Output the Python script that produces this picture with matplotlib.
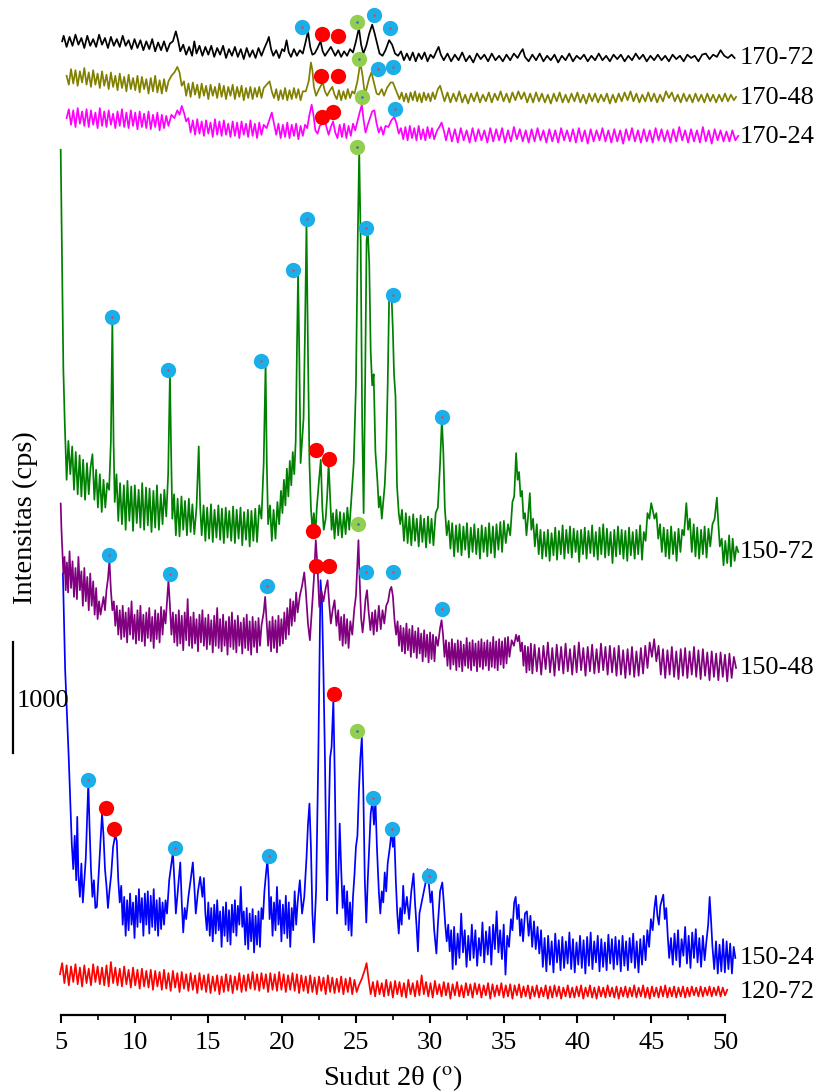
"""
XRD patterns, stacked: samples 120-72 ... 170-72, with phase markers.
Intensities in cps, read off the reference; offsets stack the patterns.
"""

import numpy as np
import matplotlib
matplotlib.use('Agg')
import matplotlib.pyplot as plt

plt.rcParams['font.family'] = ['Liberation Serif', 'DejaVu Serif']
plt.rcParams['mathtext.fontset'] = 'stix'

# ---------------------------------------------------------------- data (2θ, cps)
XRD_170_72 = [
    (5.1, 150), (5.2, 200), (5.4, 100), (5.6, 190), (5.8, 110), (6.0, 210), (6.2, 120), (6.4, 180),
    (6.6, 90), (6.8, 200), (7.0, 110), (7.2, 170), (7.4, 100), (7.6, 210), (7.8, 120), (8.0, 180),
    (8.2, 90), (8.4, 190), (8.6, 110), (8.8, 170), (9.0, 100), (9.2, 200), (9.4, 110), (9.6, 160),
    (9.8, 80), (10.0, 170), (10.2, 90), (10.4, 160), (10.6, 70), (10.8, 150), (11.0, 80), (11.2, 170),
    (11.4, 60), (11.6, 140), (11.8, 70), (12.0, 150), (12.2, 60), (12.4, 130), (12.6, 150), (12.8, 240),
    (12.95, 160), (13.1, 60), (13.3, 120), (13.5, 30), (13.7, 100), (13.9, 20), (14.05, 150), (14.2, 40),
    (14.4, 110), (14.6, 20), (14.8, 100), (15.0, 30), (15.2, 110), (15.4, 10), (15.6, 90), (15.8, 30),
    (16.0, 110), (16.2, 0), (16.4, 80), (16.6, 20), (16.8, 100), (17.0, 10), (17.2, 80), (17.4, -10),
    (17.6, 90), (17.8, 10), (18.0, 70), (18.2, 0), (18.4, 90), (18.6, 20), (18.8, 90), (19.0, 150),
    (19.1, 190), (19.25, 80), (19.4, 20), (19.6, 70), (19.8, 0), (20.0, 80), (20.15, 60), (20.3, 160),
    (20.45, 50), (20.6, 10), (20.8, 80), (21.0, 20), (21.2, 70), (21.4, 40), (21.6, 150), (21.75, 240),
    (21.9, 100), (22.05, 30), (22.2, 40), (22.4, 90), (22.6, 150), (22.75, 60), (22.9, 20), (23.1, 60),
    (23.3, 100), (23.45, 60), (23.6, 20), (23.8, 70), (24.0, 10), (24.2, 60), (24.4, 20), (24.6, 80),
    (24.8, 50), (25.0, 150), (25.2, 270), (25.35, 120), (25.5, 40), (25.7, 110), (25.9, 220), (26.1, 300),
    (26.25, 230), (26.45, 120), (26.6, 40), (26.8, 20), (27.0, 70), (27.25, 160), (27.45, 120), (27.65, 40),
    (27.85, 20), (28.05, 60), (28.25, -20), (28.45, 40), (28.65, -20), (28.85, 50), (29.05, -30), (29.25, 40),
    (29.45, -10), (29.65, 50), (29.85, -30), (30.05, 30), (30.25, 0), (30.45, 60), (30.6, 100), (30.75, 30),
    (30.95, -20), (31.2, 40), (31.45, -30), (31.7, 30), (31.95, -20), (32.2, 50), (32.45, -30), (32.7, 20),
    (32.95, -40), (33.2, 40), (33.45, -10), (33.7, 30), (33.95, -30), (34.2, 40), (34.45, -20), (34.7, 20),
    (34.95, -30), (35.2, 30), (35.45, -20), (35.7, 40), (35.95, 0), (36.15, 50), (36.3, 80), (36.45, 10),
    (36.7, -30), (36.95, 30), (37.2, -20), (37.45, 40), (37.7, -30), (37.95, 20), (38.2, -20), (38.45, 30),
    (38.7, -40), (38.95, 20), (39.2, -20), (39.45, 40), (39.7, -30), (39.95, 20), (40.2, -10), (40.45, 30),
    (40.7, -30), (40.95, 20), (41.2, -20), (41.45, 40), (41.7, -20), (41.95, 20), (42.2, -30), (42.45, 30),
    (42.7, -10), (42.95, 30), (43.2, -30), (43.45, 20), (43.7, -20), (43.95, 40), (44.2, -10), (44.45, 30),
    (44.7, -30), (44.95, 20), (45.2, -20), (45.45, 30), (45.7, -20), (45.95, 20), (46.2, -30), (46.45, 30),
    (46.7, -10), (46.95, 20), (47.2, -30), (47.45, 30), (47.7, 0), (47.95, 20), (48.2, -30), (48.45, 30),
    (48.7, 40), (48.95, -10), (49.2, 30), (49.45, 10), (49.7, 70), (49.95, 20), (50.2, 0), (50.45, 30),
    (50.65, 0),
]

XRD_170_48 = [
    (5.4, 200), (5.55, 120), (5.7, 260), (5.85, 130), (6.0, 250), (6.15, 110), (6.3, 240), (6.45, 140),
    (6.6, 270), (6.75, 120), (6.9, 230), (7.05, 100), (7.2, 250), (7.35, 120), (7.5, 220), (7.65, 90),
    (7.8, 240), (7.95, 110), (8.1, 210), (8.25, 80), (8.4, 230), (8.55, 100), (8.7, 200), (8.85, 70),
    (9.0, 220), (9.15, 90), (9.3, 190), (9.45, 60), (9.6, 210), (9.75, 80), (9.9, 180), (10.05, 70),
    (10.2, 200), (10.35, 50), (10.5, 190), (10.65, 80), (10.8, 170), (10.95, 40), (11.1, 180), (11.25, 60),
    (11.4, 200), (11.55, 50), (11.7, 160), (11.85, 40), (12.0, 170), (12.15, 60), (12.3, 150), (12.5, 200),
    (12.7, 230), (12.9, 280), (13.05, 230), (13.2, 110), (13.35, 150), (13.5, 20), (13.65, 130), (13.8, 10),
    (13.95, 140), (14.1, 30), (14.25, 120), (14.4, 0), (14.55, 130), (14.7, 20), (14.85, 110), (15.0, -10),
    (15.15, 120), (15.3, 20), (15.45, 100), (15.6, 0), (15.75, 130), (15.9, 10), (16.05, 110), (16.2, -10),
    (16.35, 100), (16.5, 20), (16.65, 120), (16.8, -10), (16.95, 100), (17.1, 10), (17.25, 110), (17.4, -20),
    (17.55, 90), (17.7, 0), (17.85, 100), (18.0, -10), (18.15, 90), (18.3, 10), (18.45, 100), (18.6, 0),
    (18.75, 90), (18.95, 120), (19.15, 150), (19.3, 60), (19.45, 0), (19.6, 80), (19.75, -20), (19.9, 70),
    (20.05, -10), (20.2, 90), (20.35, -20), (20.5, 70), (20.65, -10), (20.8, 90), (20.95, 0), (21.1, 80),
    (21.25, -20), (21.4, 60), (21.6, 60), (21.8, 150), (21.95, 320), (22.05, 250), (22.15, 100), (22.3, 20),
    (22.5, 80), (22.75, 140), (22.9, 60), (23.05, 20), (23.2, 60), (23.4, 100), (23.55, 30), (23.7, -10),
    (23.85, 70), (24.0, -20), (24.15, 60), (24.3, -10), (24.45, 80), (24.6, 0), (24.75, 60), (24.9, 40),
    (25.1, 150), (25.3, 320), (25.45, 200), (25.6, 30), (25.75, 100), (25.9, 180), (26.05, 230), (26.2, 150),
    (26.4, 40), (26.55, 30), (26.75, 80), (26.9, 20), (27.1, 90), (27.35, 140), (27.5, 140), (27.65, 90),
    (27.8, 40), (27.95, -10), (28.1, 50), (28.25, -30), (28.4, 40), (28.55, -40), (28.7, 50), (28.85, -20),
    (29.0, 60), (29.15, -30), (29.3, 40), (29.45, -40), (29.6, 50), (29.75, -20), (29.9, 40), (30.05, -30),
    (30.2, 50), (30.35, -10), (30.55, 80), (30.7, 110), (30.85, 40), (31.0, -30), (31.2, 50), (31.4, -40),
    (31.6, 40), (31.8, -30), (32.0, 60), (32.2, -40), (32.4, 30), (32.6, -50), (32.8, 40), (33.0, -30),
    (33.2, 50), (33.4, -40), (33.6, 30), (33.8, -30), (34.0, 50), (34.2, -40), (34.4, 40), (34.6, -20),
    (34.8, 60), (35.0, -30), (35.2, 40), (35.4, -40), (35.6, 50), (35.8, -20), (36.0, 60), (36.2, -10),
    (36.4, 50), (36.6, -40), (36.8, 40), (37.0, -40), (37.2, 50), (37.4, -30), (37.6, 40), (37.8, -40),
    (38.0, 30), (38.2, -50), (38.4, 40), (38.6, -30), (38.8, 50), (39.0, -40), (39.2, 30), (39.4, -40),
    (39.6, 40), (39.8, -30), (40.0, 50), (40.2, -40), (40.4, 30), (40.6, -50), (40.8, 40), (41.0, -30),
    (41.2, 40), (41.4, -40), (41.6, 30), (41.8, -30), (42.0, 40), (42.2, -50), (42.4, 30), (42.6, -40),
    (42.8, 40), (43.0, -30), (43.2, 50), (43.4, -20), (43.6, 60), (43.8, -30), (44.0, 40), (44.2, -40),
    (44.4, 30), (44.6, -30), (44.8, 50), (45.0, -30), (45.2, 40), (45.4, -40), (45.6, 30), (45.8, -30),
    (46.0, 60), (46.2, 0), (46.4, 50), (46.6, -30), (46.8, 30), (47.0, -40), (47.2, 40), (47.4, -30),
    (47.6, 30), (47.8, -40), (48.0, 40), (48.2, -30), (48.4, 30), (48.6, -40), (48.8, 40), (49.0, -30),
    (49.2, 30), (49.4, -40), (49.6, 30), (49.8, -30), (50.0, 40), (50.2, -30), (50.4, 30), (50.6, -20),
    (50.75, 10),
]

XRD_170_24 = [
    (5.4, 170), (5.55, 250), (5.7, 110), (5.85, 240), (6.0, 90), (6.15, 260), (6.3, 120), (6.45, 230),
    (6.6, 100), (6.75, 250), (6.9, 90), (7.05, 240), (7.2, 110), (7.35, 220), (7.5, 80), (7.65, 260),
    (7.8, 100), (7.95, 230), (8.1, 90), (8.25, 240), (8.4, 110), (8.55, 210), (8.7, 80), (8.85, 230),
    (9.0, 100), (9.15, 250), (9.3, 90), (9.45, 220), (9.6, 80), (9.75, 240), (9.9, 100), (10.05, 220),
    (10.2, 70), (10.35, 230), (10.5, 90), (10.65, 210), (10.8, 80), (10.95, 230), (11.1, 70), (11.25, 200),
    (11.4, 90), (11.55, 220), (11.7, 60), (11.85, 200), (12.0, 80), (12.15, 190), (12.3, 100), (12.5, 200),
    (12.7, 170), (12.9, 240), (13.05, 200), (13.2, 280), (13.35, 220), (13.5, 140), (13.65, 170), (13.8, 40),
    (13.95, 150), (14.1, 20), (14.25, 160), (14.4, 30), (14.55, 140), (14.7, 10), (14.85, 150), (15.0, 30),
    (15.15, 130), (15.3, 0), (15.45, 160), (15.6, 20), (15.75, 140), (15.9, 10), (16.05, 150), (16.2, 20),
    (16.35, 120), (16.5, 0), (16.65, 140), (16.8, 10), (16.95, 130), (17.1, -10), (17.25, 140), (17.4, 20),
    (17.55, 120), (17.7, 0), (17.85, 150), (18.0, 10), (18.15, 120), (18.3, -10), (18.45, 130), (18.6, 20),
    (18.75, 110), (18.95, 80), (19.15, 160), (19.3, 220), (19.45, 120), (19.6, 20), (19.75, 120), (19.9, -10),
    (20.05, 110), (20.2, 0), (20.35, 130), (20.5, -10), (20.65, 110), (20.8, 10), (20.95, 120), (21.1, -20),
    (21.25, 100), (21.4, 10), (21.55, 110), (21.7, 80), (21.85, 200), (22.0, 290), (22.12, 200), (22.25, 60),
    (22.4, 30), (22.55, 100), (22.7, 120), (22.85, 180), (23.0, 90), (23.15, 20), (23.3, 90), (23.45, 140),
    (23.6, 40), (23.75, -10), (23.9, 110), (24.05, 0), (24.2, 120), (24.35, -10), (24.5, 100), (24.65, 10),
    (24.8, 120), (24.95, 60), (25.1, 140), (25.25, 220), (25.4, 290), (25.52, 150), (25.65, 40), (25.8, 110),
    (25.95, 170), (26.1, 230), (26.25, 240), (26.4, 120), (26.55, 40), (26.7, 90), (26.85, 20), (27.0, 100),
    (27.2, 90), (27.4, 150), (27.6, 180), (27.75, 120), (27.9, 30), (28.05, 80), (28.2, -20), (28.35, 90),
    (28.5, -30), (28.65, 100), (28.8, -10), (28.95, 80), (29.1, -30), (29.25, 100), (29.4, -20), (29.55, 70),
    (29.7, -30), (29.85, 90), (30.0, -10), (30.15, 80), (30.3, -20), (30.5, 60), (30.65, 90), (30.8, 130),
    (30.95, 60), (31.1, -30), (31.3, 80), (31.5, -40), (31.7, 70), (31.9, -50), (32.1, 80), (32.3, -30),
    (32.5, 60), (32.7, -50), (32.9, 80), (33.1, -40), (33.3, 70), (33.5, -30), (33.7, 60), (33.9, -50),
    (34.1, 80), (34.3, -40), (34.5, 70), (34.7, -30), (34.9, 80), (35.1, -50), (35.3, 60), (35.5, -40),
    (35.7, 90), (35.9, -20), (36.1, 70), (36.3, -40), (36.5, 60), (36.7, -50), (36.9, 70), (37.1, -40),
    (37.3, 80), (37.5, -30), (37.7, 60), (37.9, -50), (38.1, 70), (38.3, -40), (38.5, 60), (38.7, -50),
    (38.9, 80), (39.1, -30), (39.3, 60), (39.5, -40), (39.7, 70), (39.9, -50), (40.1, 80), (40.3, -40),
    (40.5, 60), (40.7, -60), (40.9, 70), (41.1, -40), (41.3, 60), (41.5, -30), (41.7, 80), (41.9, -40),
    (42.1, 60), (42.3, -50), (42.5, 70), (42.7, -40), (42.9, 60), (43.1, -60), (43.3, 70), (43.5, -30),
    (43.7, 80), (43.9, -40), (44.1, 60), (44.3, -50), (44.5, 70), (44.7, -40), (44.9, 60), (45.1, -50),
    (45.3, 80), (45.5, -30), (45.7, 70), (45.9, -40), (46.1, 60), (46.3, -50), (46.5, 70), (46.7, -40),
    (46.9, 90), (47.1, -30), (47.3, 60), (47.5, -50), (47.7, 70), (47.9, -40), (48.1, 60), (48.3, -50),
    (48.5, 90), (48.7, -40), (48.9, 60), (49.1, -60), (49.3, 70), (49.5, -30), (49.7, 60), (49.9, -40),
    (50.1, 50), (50.3, -40), (50.5, 60), (50.7, -30), (50.9, 10),
]

XRD_150_72 = [
    (5.00, 3620), (5.08, 2720), (5.18, 1640), (5.28, 1140), (5.40, 650), (5.52, 1000), (5.65, 700),
    (5.78, 950), (5.90, 560), (6.02, 900), (6.15, 520), (6.28, 870), (6.40, 500), (6.52, 830), (6.65, 470),
    (6.78, 800), (6.90, 520), (7.02, 760), (7.15, 880), (7.28, 470), (7.40, 740), (7.52, 400), (7.65, 700),
    (7.78, 360), (7.90, 650), (8.02, 400), (8.15, 620), (8.28, 560), (8.40, 1000), (8.50, 2090), (8.58, 1000),
    (8.66, 450), (8.78, 700), (8.90, 280), (9.02, 620), (9.15, 250), (9.28, 600), (9.40, 200), (9.52, 640),
    (9.65, 280), (9.78, 590), (9.90, 190), (10.02, 600), (10.15, 260), (10.28, 560), (10.40, 220), (10.52, 620),
    (10.65, 200), (10.78, 580), (10.90, 240), (11.02, 570), (11.15, 180), (11.28, 550), (11.40, 220),
    (11.52, 600), (11.65, 200), (11.78, 520), (11.90, 250), (12.02, 560), (12.15, 320), (12.28, 700),
    (12.40, 1610), (12.48, 900), (12.56, 300), (12.68, 520), (12.80, 150), (12.92, 480), (13.05, 140),
    (13.18, 500), (13.30, 200), (13.42, 460), (13.55, 150), (13.68, 480), (13.80, 180), (13.92, 430),
    (14.05, 160), (14.20, 400), (14.35, 950), (14.45, 400), (14.55, 150), (14.68, 420), (14.80, 100),
    (14.92, 400), (15.05, 120), (15.18, 430), (15.30, 90), (15.42, 380), (15.55, 130), (15.68, 420),
    (15.80, 110), (15.92, 390), (16.05, 80), (16.18, 400), (16.30, 130), (16.42, 370), (16.55, 100),
    (16.68, 410), (16.80, 80), (16.92, 380), (17.05, 120), (17.18, 400), (17.30, 60), (17.42, 360),
    (17.55, 110), (17.68, 380), (17.80, 50), (17.92, 370), (18.05, 100), (18.18, 390), (18.30, 90),
    (18.45, 420), (18.60, 300), (18.75, 800), (18.88, 1700), (18.96, 800), (19.05, 250), (19.18, 420),
    (19.30, 100), (19.42, 380), (19.55, 120), (19.68, 450), (19.80, 250), (19.92, 550), (20.02, 350),
    (20.12, 650), (20.22, 420), (20.32, 750), (20.42, 500), (20.52, 820), (20.62, 600), (20.72, 900),
    (20.82, 700), (20.92, 1000), (21.00, 1800), (21.08, 2510), (21.16, 1800), (21.25, 800), (21.35, 1000),
    (21.45, 1200), (21.55, 2000), (21.65, 2960), (21.75, 1800), (21.85, 800), (21.95, 400), (22.05, 200),
    (22.15, 350), (22.25, 150), (22.35, 400), (22.50, 650), (22.62, 830), (22.72, 400), (22.82, 200),
    (22.95, 300), (23.05, 500), (23.15, 800), (23.25, 500), (23.35, 200), (23.45, 350), (23.55, 120),
    (23.68, 380), (23.80, 150), (23.92, 360), (24.05, 130), (24.18, 350), (24.30, 160), (24.42, 400),
    (24.55, 200), (24.70, 500), (24.85, 800), (25.00, 1500), (25.12, 2800), (25.22, 3620), (25.32, 2800),
    (25.42, 1200), (25.52, 350), (25.62, 1500), (25.72, 2800), (25.80, 2900), (25.90, 2600), (26.00, 1800),
    (26.10, 1500), (26.20, 1600), (26.32, 900), (26.45, 650), (26.55, 400), (26.65, 500), (26.75, 300),
    (26.85, 450), (26.95, 600), (27.05, 900), (27.15, 1500), (27.25, 2300), (27.35, 2300), (27.42, 2280),
    (27.50, 2000), (27.58, 1600), (27.68, 1400), (27.78, 600), (27.90, 350), (28.00, 250), (28.12, 380),
    (28.25, 100), (28.38, 350), (28.50, 80), (28.62, 320), (28.75, 60), (28.88, 340), (29.00, 100),
    (29.12, 300), (29.25, 50), (29.38, 330), (29.50, 90), (29.62, 300), (29.75, 40), (29.88, 320),
    (30.00, 80), (30.12, 300), (30.25, 60), (30.40, 350), (30.55, 400), (30.70, 800), (30.82, 1190),
    (30.92, 900), (31.02, 400), (31.15, 150), (31.28, 280), (31.40, 30), (31.52, 260), (31.65, -40),
    (31.78, 240), (31.90, 0), (32.02, 250), (32.15, -30), (32.28, 230), (32.40, 20), (32.52, 260),
    (32.65, -50), (32.78, 220), (32.90, 0), (33.02, 250), (33.15, -20), (33.28, 210), (33.40, -60),
    (33.52, 240), (33.65, 0), (33.78, 220), (33.90, -40), (34.02, 260), (34.15, -10), (34.28, 230),
    (34.40, -50), (34.52, 250), (34.65, 20), (34.78, 270), (34.90, 0), (35.02, 280), (35.15, 80),
    (35.30, 250), (35.45, 150), (35.60, 450), (35.72, 500), (35.85, 890), (35.95, 650), (36.05, 720),
    (36.15, 500), (36.25, 550), (36.35, 300), (36.45, 350), (36.55, 150), (36.65, 300), (36.78, 530),
    (36.88, 200), (37.00, 300), (37.12, 50), (37.25, 250), (37.38, -20), (37.50, 200), (37.62, -60),
    (37.75, 180), (37.88, -40), (38.00, 200), (38.12, -80), (38.25, 170), (38.38, -30), (38.50, 220),
    (38.62, -70), (38.75, 190), (38.88, -20), (39.00, 240), (39.12, -60), (39.25, 200), (39.38, -10),
    (39.50, 230), (39.62, -50), (39.75, 210), (39.88, 0), (40.00, 190), (40.12, -90), (40.25, 200),
    (40.38, -20), (40.50, 220), (40.62, -60), (40.75, 190), (40.88, -10), (41.00, 240), (41.12, -40),
    (41.25, 180), (41.38, -70), (41.50, 220), (41.62, -20), (41.75, 250), (41.88, -50), (42.00, 210),
    (42.12, -30), (42.25, 180), (42.38, -100), (42.50, 200), (42.62, -40), (42.75, 230), (42.88, -20),
    (43.00, 200), (43.12, -60), (43.25, 190), (43.38, -80), (43.50, 220), (43.62, -30), (43.75, 180),
    (43.88, -60), (44.00, 200), (44.12, -20), (44.25, 240), (44.38, -70), (44.50, 180), (44.62, 100),
    (44.75, 350), (44.88, 300), (45.00, 440), (45.10, 380), (45.22, 300), (45.35, 350), (45.48, 120),
    (45.60, 250), (45.72, 0), (45.85, 220), (45.98, -40), (46.10, 200), (46.22, -60), (46.35, 230),
    (46.48, -20), (46.60, 180), (46.72, -80), (46.85, 210), (46.98, 0), (47.10, 200), (47.22, 150),
    (47.38, 440), (47.50, 200), (47.62, 300), (47.75, 0), (47.88, 250), (48.00, -40), (48.12, 220),
    (48.25, -60), (48.38, 200), (48.50, -20), (48.62, 230), (48.75, -50), (48.88, 210), (49.00, 50),
    (49.15, 250), (49.30, 300), (49.45, 490), (49.55, 250), (49.65, 50), (49.78, 120), (49.90, -120),
    (50.02, 100), (50.15, -100), (50.28, 150), (50.40, -130), (50.52, 120), (50.65, -80), (50.78, 50),
    (50.90, 0),
]

XRD_150_48 = [
    (5.0, 1480), (5.05, 1250), (5.1, 1090), (5.18, 850), (5.26, 1000), (5.34, 700), (5.42, 950), (5.5, 680),
    (5.6, 1050), (5.7, 720), (5.8, 960), (5.9, 640), (6.0, 900), (6.1, 620), (6.2, 1000), (6.3, 700),
    (6.4, 870), (6.5, 560), (6.6, 900), (6.7, 600), (6.8, 820), (6.9, 520), (7.0, 850), (7.1, 560),
    (7.2, 780), (7.3, 480), (7.4, 720), (7.5, 440), (7.6, 600), (7.7, 480), (7.8, 560), (7.9, 640),
    (8.0, 520), (8.1, 700), (8.2, 800), (8.3, 970), (8.4, 700), (8.5, 520), (8.6, 600), (8.7, 380),
    (8.8, 560), (8.9, 300), (9.0, 520), (9.1, 260), (9.2, 560), (9.3, 280), (9.4, 500), (9.5, 230),
    (9.6, 540), (9.7, 300), (9.8, 600), (9.9, 260), (10.0, 480), (10.1, 220), (10.2, 520), (10.3, 250),
    (10.4, 560), (10.5, 240), (10.6, 480), (10.7, 200), (10.8, 500), (10.9, 270), (11.0, 540), (11.1, 240),
    (11.2, 460), (11.3, 180), (11.4, 520), (11.5, 260), (11.6, 490), (11.7, 230), (11.8, 550), (11.9, 300),
    (12.0, 520), (12.1, 400), (12.2, 600), (12.3, 790), (12.4, 560), (12.5, 300), (12.6, 500), (12.7, 230),
    (12.8, 480), (12.9, 200), (13.0, 520), (13.1, 220), (13.2, 470), (13.3, 160), (13.4, 500), (13.5, 250),
    (13.6, 620), (13.7, 200), (13.8, 460), (13.9, 180), (14.0, 500), (14.1, 220), (14.2, 440), (14.3, 150),
    (14.4, 480), (14.5, 230), (14.6, 520), (14.7, 200), (14.8, 450), (14.9, 170), (15.0, 480), (15.1, 210),
    (15.2, 430), (15.3, 140), (15.4, 470), (15.5, 200), (15.6, 540), (15.7, 180), (15.8, 440), (15.9, 150),
    (16.0, 480), (16.1, 200), (16.2, 420), (16.3, 120), (16.4, 460), (16.5, 190), (16.6, 500), (16.7, 170),
    (16.8, 430), (16.9, 140), (17.0, 470), (17.1, 200), (17.2, 410), (17.3, 130), (17.4, 450), (17.5, 180),
    (17.6, 480), (17.7, 160), (17.8, 420), (17.9, 120), (18.0, 460), (18.1, 190), (18.2, 420), (18.3, 140),
    (18.4, 450), (18.5, 200), (18.6, 380), (18.75, 500), (18.85, 640), (18.95, 420), (19.05, 200),
    (19.15, 420), (19.25, 150), (19.35, 460), (19.45, 180), (19.55, 430), (19.65, 140), (19.75, 470),
    (19.85, 200), (19.95, 440), (20.05, 220), (20.15, 500), (20.25, 260), (20.35, 540), (20.45, 300),
    (20.55, 620), (20.65, 380), (20.75, 600), (20.85, 420), (20.95, 680), (21.05, 500), (21.2, 650),
    (21.35, 740), (21.5, 860), (21.6, 700), (21.75, 400), (21.88, 250), (22.0, 500), (22.15, 800),
    (22.28, 1150), (22.4, 900), (22.52, 550), (22.65, 700), (22.8, 600), (22.95, 720), (23.08, 790),
    (23.2, 560), (23.3, 400), (23.42, 520), (23.55, 610), (23.68, 380), (23.8, 520), (23.9, 250),
    (24.0, 460), (24.1, 200), (24.2, 480), (24.3, 220), (24.4, 440), (24.5, 180), (24.62, 420),
    (24.75, 300), (24.88, 520), (25.0, 650), (25.1, 950), (25.17, 1150), (25.25, 800), (25.35, 450),
    (25.45, 320), (25.55, 450), (25.65, 620), (25.75, 700), (25.85, 520), (25.98, 340), (26.1, 500),
    (26.2, 300), (26.3, 520), (26.42, 330), (26.55, 560), (26.68, 350), (26.8, 520), (26.92, 400),
    (27.05, 560), (27.18, 600), (27.3, 700), (27.4, 730), (27.5, 650), (27.62, 420), (27.72, 300),
    (27.82, 420), (27.92, 200), (28.02, 380), (28.12, 150), (28.22, 360), (28.32, 130), (28.42, 400),
    (28.52, 160), (28.62, 350), (28.72, 100), (28.82, 380), (28.92, 140), (29.02, 330), (29.12, 90),
    (29.22, 360), (29.32, 130), (29.42, 310), (29.52, 60), (29.62, 340), (29.72, 100), (29.82, 300),
    (29.92, 50), (30.02, 320), (30.12, 80), (30.22, 300), (30.32, 60), (30.42, 280), (30.55, 200),
    (30.7, 360), (30.8, 430), (30.9, 300), (31.0, 100), (31.1, 250), (31.2, 20), (31.3, 230), (31.4, -10),
    (31.5, 260), (31.6, 30), (31.7, 220), (31.8, -20), (31.9, 250), (32.0, 10), (32.1, 240), (32.2, -30),
    (32.3, 210), (32.4, 20), (32.5, 270), (32.6, 0), (32.7, 230), (32.8, -20), (32.9, 250), (33.0, 20),
    (33.1, 220), (33.2, -30), (33.3, 240), (33.4, 10), (33.5, 260), (33.6, -10), (33.7, 230), (33.8, 20),
    (33.9, 250), (34.0, -20), (34.1, 230), (34.2, 10), (34.3, 280), (34.4, 0), (34.5, 240), (34.6, -20),
    (34.7, 260), (34.8, 30), (34.9, 240), (35.0, 0), (35.1, 270), (35.2, 40), (35.3, 280), (35.4, 100),
    (35.55, 250), (35.7, 200), (35.85, 300), (35.95, 240), (36.05, 290), (36.15, 150), (36.25, 230),
    (36.35, 20), (36.45, 200), (36.55, -40), (36.65, 190), (36.75, -20), (36.85, 220), (36.95, -50),
    (37.1, 210), (37.25, -30), (37.4, 180), (37.55, -60), (37.7, 200), (37.85, -10), (38.0, 230),
    (38.15, -40), (38.3, 180), (38.45, -70), (38.6, 210), (38.75, -20), (38.9, 190), (39.05, -50),
    (39.2, 220), (39.35, -30), (39.5, 170), (39.65, -60), (39.8, 200), (39.95, -40), (40.1, 230),
    (40.25, -20), (40.4, 180), (40.55, -70), (40.7, 190), (40.85, -30), (41.0, 210), (41.15, -50),
    (41.3, 170), (41.45, -40), (41.6, 220), (41.75, -20), (41.9, 190), (42.05, -60), (42.2, 200),
    (42.35, -40), (42.5, 180), (42.65, -70), (42.8, 200), (42.95, -60), (43.1, 160), (43.25, -90),
    (43.4, 170), (43.55, -60), (43.7, 190), (43.85, -80), (44.0, 150), (44.15, -70), (44.3, 180),
    (44.45, -50), (44.6, 200), (44.75, 0), (44.9, 230), (45.05, 100), (45.2, 260), (45.35, 60),
    (45.5, 200), (45.65, -60), (45.8, 170), (45.95, -90), (46.1, 160), (46.25, -60), (46.4, 190),
    (46.55, -80), (46.7, 150), (46.85, -100), (47.0, 170), (47.15, -70), (47.3, 180), (47.45, -90),
    (47.6, 150), (47.75, -60), (47.9, 190), (48.05, -80), (48.2, 160), (48.35, -100), (48.5, 170),
    (48.65, -70), (48.8, 140), (48.95, -110), (49.1, 150), (49.25, -80), (49.4, 130), (49.55, -110),
    (49.7, 140), (49.85, -80), (50.0, 120), (50.15, -120), (50.3, 130), (50.45, -90), (50.6, 100),
    (50.75, 0),
]

XRD_150_24 = [
    (5.15, 3460), (5.3, 2600), (5.45, 2110), (5.55, 1780), (5.65, 1400), (5.75, 1030), (5.85, 800),
    (5.95, 1100), (6.05, 700), (6.12, 1270), (6.2, 750), (6.3, 550), (6.4, 850), (6.5, 500), (6.6, 700),
    (6.7, 900), (6.8, 1300), (6.87, 1580), (6.95, 1200), (7.05, 800), (7.15, 550), (7.25, 700), (7.35, 450),
    (7.45, 460), (7.55, 700), (7.68, 1000), (7.8, 1300), (7.9, 1100), (8.0, 800), (8.1, 650), (8.2, 450),
    (8.3, 600), (8.42, 750), (8.55, 1000), (8.7, 1110), (8.8, 1050), (8.9, 700), (9.0, 500), (9.1, 650),
    (9.2, 300), (9.3, 550), (9.4, 200), (9.5, 520), (9.6, 250), (9.7, 580), (9.8, 300), (9.9, 500),
    (10.0, 180), (10.1, 560), (10.2, 280), (10.3, 620), (10.4, 320), (10.5, 540), (10.6, 200), (10.7, 580),
    (10.8, 300), (10.9, 600), (11.0, 220), (11.1, 560), (11.2, 280), (11.3, 620), (11.4, 250), (11.5, 520),
    (11.6, 200), (11.7, 540), (11.8, 260), (11.9, 500), (12.0, 300), (12.1, 520), (12.2, 400), (12.35, 700),
    (12.5, 850), (12.6, 950), (12.7, 700), (12.8, 400), (12.9, 550), (13.0, 700), (13.1, 860), (13.2, 500),
    (13.3, 230), (13.4, 450), (13.5, 350), (13.65, 550), (13.8, 700), (13.95, 860), (14.05, 650),
    (14.15, 400), (14.3, 600), (14.45, 730), (14.6, 550), (14.7, 720), (14.8, 400), (14.9, 250), (15.0, 500),
    (15.1, 200), (15.2, 450), (15.3, 150), (15.4, 480), (15.5, 220), (15.6, 520), (15.7, 250), (15.8, 420),
    (15.9, 100), (16.0, 460), (16.1, 200), (16.2, 500), (16.3, 150), (16.4, 430), (16.5, 120), (16.6, 480),
    (16.7, 230), (16.8, 520), (16.9, 200), (17.0, 470), (17.1, 300), (17.2, 640), (17.3, 280), (17.4, 420),
    (17.5, 120), (17.6, 450), (17.7, 80), (17.8, 400), (17.9, 150), (18.0, 440), (18.1, 50), (18.2, 380),
    (18.3, 120), (18.4, 420), (18.5, 100), (18.6, 450), (18.7, 350), (18.8, 600), (18.9, 750), (19.0, 880),
    (19.08, 700), (19.15, 350), (19.25, 550), (19.35, 200), (19.45, 500), (19.55, 250), (19.65, 640),
    (19.75, 300), (19.85, 520), (19.95, 150), (20.05, 480), (20.15, 220), (20.25, 560), (20.35, 180),
    (20.45, 500), (20.55, 100), (20.65, 450), (20.75, 250), (20.85, 600), (20.95, 300), (21.05, 500),
    (21.2, 700), (21.35, 400), (21.5, 550), (21.65, 900), (21.75, 1200), (21.85, 1390), (21.95, 1000),
    (22.05, 400), (22.15, 140), (22.3, 600), (22.45, 1800), (22.6, 3400), (22.7, 3200), (22.8, 2560),
    (22.9, 1800), (23.0, 800), (23.05, 520), (23.15, 1200), (23.25, 1800), (23.35, 1900), (23.47, 2320),
    (23.57, 1600), (23.65, 800), (23.72, 400), (23.82, 800), (23.9, 1210), (24.0, 800), (24.1, 450),
    (24.2, 650), (24.3, 300), (24.4, 600), (24.5, 250), (24.6, 500), (24.7, 200), (24.8, 550), (24.9, 750),
    (25.0, 1000), (25.1, 1100), (25.2, 1500), (25.3, 1800), (25.4, 1990), (25.5, 1500), (25.6, 700),
    (25.7, 320), (25.8, 700), (25.9, 1000), (26.0, 1300), (26.12, 1420), (26.22, 1200), (26.32, 1420),
    (26.42, 1000), (26.55, 600), (26.65, 400), (26.75, 600), (26.85, 500), (26.95, 770), (27.05, 600),
    (27.15, 850), (27.3, 1000), (27.42, 1150), (27.5, 1000), (27.6, 1100), (27.7, 700), (27.8, 400),
    (27.9, 220), (28.0, 450), (28.1, 300), (28.2, 650), (28.3, 400), (28.45, 550), (28.6, 350), (28.75, 600),
    (28.9, 760), (29.0, 500), (29.1, 300), (29.2, 60), (29.3, 400), (29.45, 500), (29.6, 600), (29.75, 700),
    (29.85, 800), (29.95, 650), (30.05, 500), (30.15, 600), (30.3, 250), (30.45, 40), (30.55, 300),
    (30.7, 600), (30.85, 680), (30.95, 500), (31.05, 300), (31.15, 150), (31.25, 300), (31.35, 60),
    (31.45, 250), (31.55, -100), (31.65, 280), (31.77, -60), (31.89, 220), (32.01, 0), (32.13, 400),
    (32.25, 50), (32.37, 250), (32.49, -80), (32.61, 200), (32.73, -20), (32.85, 300), (32.97, 0),
    (33.09, 250), (33.21, -70), (33.33, 180), (33.45, 20), (33.57, 320), (33.69, -40), (33.81, 240),
    (33.93, 30), (34.05, 280), (34.17, -60), (34.29, 300), (34.41, 80), (34.53, 420), (34.65, 50),
    (34.77, 250), (34.89, -10), (35.01, 300), (35.13, -150), (35.25, 200), (35.37, 100), (35.5, 350),
    (35.6, 250), (35.72, 500), (35.82, 550), (35.92, 350), (36.02, 480), (36.12, 200), (36.22, 350),
    (36.32, 150), (36.45, 400), (36.58, 420), (36.7, 200), (36.82, 380), (36.94, 100), (37.06, 330),
    (37.18, 80), (37.3, 280), (37.42, 40), (37.54, 250), (37.66, -80), (37.78, 180), (37.9, -120),
    (38.02, 200), (38.14, -60), (38.26, 150), (38.38, -130), (38.5, 220), (38.62, -40), (38.74, 160),
    (38.86, -110), (38.98, 190), (39.1, -90), (39.22, 150), (39.34, -50), (39.46, 230), (39.58, -100),
    (39.7, 170), (39.82, -130), (39.94, 140), (40.06, -60), (40.18, 200), (40.3, -90), (40.42, 160),
    (40.54, -140), (40.66, 190), (40.78, -70), (40.9, 230), (41.02, -100), (41.14, 150), (41.26, -40),
    (41.38, 200), (41.5, -120), (41.62, 170), (41.74, -80), (41.86, 140), (41.98, -110), (42.1, 210),
    (42.22, -50), (42.34, 170), (42.46, -100), (42.58, 190), (42.7, -60), (42.82, 160), (42.94, -120),
    (43.06, 200), (43.18, -70), (43.3, 150), (43.42, -110), (43.54, 180), (43.66, -40), (43.78, 220),
    (43.9, -90), (44.02, 150), (44.14, -130), (44.26, 170), (44.38, -60), (44.5, 200), (44.62, -20),
    (44.74, 250), (44.86, 100), (44.98, 350), (45.1, 250), (45.22, 450), (45.32, 560), (45.42, 380),
    (45.52, 300), (45.62, 470), (45.72, 520), (45.82, 570), (45.92, 350), (46.02, 450), (46.12, 200),
    (46.22, 0), (46.34, 180), (46.46, -60), (46.58, 220), (46.7, -20), (46.82, 250), (46.94, -80),
    (47.06, 170), (47.18, 20), (47.3, 280), (47.42, -50), (47.54, 200), (47.66, -90), (47.78, 230),
    (47.9, 0), (48.02, 260), (48.14, -40), (48.26, 180), (48.38, -80), (48.5, 200), (48.62, -20),
    (48.74, 150), (48.86, 300), (48.96, 550), (49.05, 350), (49.15, 100), (49.27, -100), (49.39, 150),
    (49.51, -140), (49.63, 120), (49.75, -120), (49.87, 170), (49.99, -130), (50.11, 150), (50.23, -100),
    (50.35, 130), (50.47, -140), (50.59, 100), (50.7, 0),
]

XRD_120_72 = [
    (4.95, 160), (5.1, 260), (5.25, 80), (5.4, 240), (5.55, 60), (5.7, 230), (5.85, 90), (6.0, 250),
    (6.15, 70), (6.3, 220), (6.45, 50), (6.6, 240), (6.75, 80), (6.9, 210), (7.05, 60), (7.2, 250),
    (7.35, 90), (7.5, 230), (7.65, 70), (7.8, 220), (7.95, 60), (8.1, 240), (8.25, 50), (8.4, 270),
    (8.55, 80), (8.7, 220), (8.85, 60), (9.0, 210), (9.15, 50), (9.3, 230), (9.45, 70), (9.6, 200),
    (9.75, 40), (9.9, 220), (10.05, 60), (10.2, 200), (10.35, 30), (10.5, 210), (10.65, 50), (10.8, 190),
    (10.95, 40), (11.1, 200), (11.25, 20), (11.4, 190), (11.55, 50), (11.7, 180), (11.85, 20), (12.0, 200),
    (12.15, 30), (12.3, 170), (12.45, 10), (12.6, 190), (12.75, 40), (12.9, 170), (13.05, 0), (13.2, 180),
    (13.35, 30), (13.5, 160), (13.65, 10), (13.8, 170), (13.95, 20), (14.1, 150), (14.25, -10), (14.4, 170),
    (14.55, 20), (14.7, 150), (14.85, 0), (15.0, 160), (15.15, -10), (15.3, 140), (15.45, 10), (15.6, 150),
    (15.75, -20), (15.9, 140), (16.05, 0), (16.2, 160), (16.35, 10), (16.5, 150), (16.65, -10), (16.8, 140),
    (16.95, 20), (17.1, 170), (17.25, 0), (17.4, 150), (17.55, 10), (17.7, 160), (17.85, 30), (18.0, 180),
    (18.15, 20), (18.3, 160), (18.45, 10), (18.6, 170), (18.75, 30), (18.9, 160), (19.05, 0), (19.2, 170),
    (19.35, 20), (19.5, 160), (19.65, 10), (19.8, 180), (19.95, 20), (20.1, 160), (20.25, 0), (20.4, 150),
    (20.55, 20), (20.7, 170), (20.85, 10), (21.0, 160), (21.15, -10), (21.3, 150), (21.45, 10), (21.6, 140),
    (21.75, -10), (21.9, 150), (22.05, 0), (22.2, 130), (22.35, -20), (22.5, 140), (22.65, 10), (22.8, 130),
    (22.95, -20), (23.1, 150), (23.25, 0), (23.4, 130), (23.55, -10), (23.7, 120), (23.85, 0), (24.0, 140),
    (24.15, -20), (24.3, 120), (24.45, 0), (24.6, 130), (24.75, -20), (24.9, 110), (25.05, 0), (25.2, 60),
    (25.4, 120), (25.6, 200), (25.72, 260), (25.85, 120), (26.0, -20), (26.15, 90), (26.3, -40), (26.45, 100),
    (26.6, -20), (26.75, 80), (26.9, -40), (27.05, 110), (27.2, -30), (27.35, 90), (27.5, -50), (27.65, 100),
    (27.8, -20), (27.95, 90), (28.1, -40), (28.25, 80), (28.4, -50), (28.55, 110), (28.7, -20), (28.85, 80),
    (29.0, -40), (29.15, 100), (29.3, -30), (29.45, 150), (29.6, -20), (29.75, 90), (29.9, -40), (30.05, 80),
    (30.2, -50), (30.35, 100), (30.5, -20), (30.65, 70), (30.8, -40), (30.95, 90), (31.1, -30), (31.25, 80),
    (31.4, -60), (31.55, 70), (31.7, -30), (31.85, 90), (32.0, -40), (32.15, 60), (32.3, -50), (32.45, 80),
    (32.6, -30), (32.75, 70), (32.9, -50), (33.05, 80), (33.2, -20), (33.35, 70), (33.5, -50), (33.65, 60),
    (33.8, -30), (33.95, 80), (34.1, -60), (34.25, 70), (34.4, -40), (34.55, 60), (34.7, -30), (34.85, 80),
    (35.0, -50), (35.15, 60), (35.3, -40), (35.45, 70), (35.6, -60), (35.75, 60), (35.9, -30), (36.05, 70),
    (36.2, -50), (36.35, 50), (36.5, -40), (36.65, 60), (36.8, -60), (36.95, 50), (37.1, -40), (37.25, 60),
    (37.4, -50), (37.55, 40), (37.7, -40), (37.85, 60), (38.0, -60), (38.15, 50), (38.3, -50), (38.45, 60),
    (38.6, -40), (38.75, 50), (38.9, -60), (39.05, 40), (39.2, -40), (39.35, 60), (39.5, -50), (39.65, 40),
    (39.8, -50), (39.95, 50), (40.1, -40), (40.25, 60), (40.4, -60), (40.55, 40), (40.7, -40), (40.85, 60),
    (41.0, -50), (41.15, 40), (41.3, -60), (41.45, 50), (41.6, -40), (41.75, 40), (41.9, -50), (42.05, 60),
    (42.2, -40), (42.35, 40), (42.5, -50), (42.65, 50), (42.8, -60), (42.95, 40), (43.1, -40), (43.25, 50),
    (43.4, -50), (43.55, 40), (43.7, -40), (43.85, 60), (44.0, -50), (44.15, 40), (44.3, -40), (44.45, 60),
    (44.6, -50), (44.75, 40), (44.9, -60), (45.05, 50), (45.2, -40), (45.35, 40), (45.5, -50), (45.65, 50),
    (45.8, -40), (45.95, 60), (46.1, -50), (46.25, 40), (46.4, -40), (46.55, 50), (46.7, -50), (46.85, 40),
    (47.0, -40), (47.15, 50), (47.3, -50), (47.45, 40), (47.6, -40), (47.75, 50), (47.9, -30), (48.05, 40),
    (48.2, -40), (48.35, 50), (48.5, -40), (48.65, 40), (48.8, -30), (48.95, 50), (49.1, -40), (49.25, 40),
    (49.4, -30), (49.55, 50), (49.7, -40), (49.85, 40), (50.0, -30), (50.15, 20),
]

# phase markers per sample: (phase, 2θ, cps)
MARKS_170_72 = [('b', 21.35, 279), ('r', 22.70, 216), ('r', 23.79, 198), ('g', 25.07, 324),
                ('b', 26.23, 387), ('b', 27.31, 270)]
MARKS_170_48 = [('r', 22.64, 198), ('r', 23.79, 198), ('g', 25.21, 351), ('b', 26.50, 261),
                ('b', 27.51, 279)]
MARKS_170_24 = [('r', 22.70, 180), ('r', 23.45, 225), ('g', 25.41, 360), ('b', 27.65, 252)]
MARKS_150_72 = [('b', 8.48, 2115), ('b', 12.27, 1638), ('b', 18.57, 1719), ('b', 20.74, 2538),
                ('b', 21.69, 2997), ('r', 22.30, 918), ('r', 23.18, 837), ('g', 25.07, 3645),
                ('b', 25.68, 2916), ('b', 27.51, 2313), ('b', 30.83, 1215)]
MARKS_150_48 = [('b', 8.28, 1017), ('b', 12.41, 846), ('b', 18.98, 738), ('r', 22.10, 1233),
                ('r', 22.30, 918), ('r', 23.18, 918), ('g', 25.14, 1296), ('b', 25.68, 864),
                ('b', 27.51, 864), ('b', 30.83, 531)]
MARKS_150_24 = [('b', 6.85, 1602), ('r', 8.07, 1350), ('r', 8.61, 1161), ('b', 12.74, 990),
                ('b', 19.11, 918), ('r', 23.51, 2376), ('g', 25.07, 2043), ('b', 26.16, 1440),
                ('b', 27.44, 1161), ('b', 29.95, 738)]

LABELS = ['120-72', '150-24', '150-48', '150-72', '170-24', '170-48', '170-72']
PATTERNS = [XRD_120_72, XRD_150_24, XRD_150_48, XRD_150_72, XRD_170_24, XRD_170_48, XRD_170_72]
MARKS = [[], MARKS_150_24, MARKS_150_48, MARKS_150_72, MARKS_170_24, MARKS_170_48, MARKS_170_72]

# ---------------------------------------------------------------- styling / stacking
COLORS = ['#FF0000', '#0000FF', '#800080', '#008000', '#FF00FF', '#808000', '#000000']
OFFSETS = [207, 513, 3123, 4167, 7902, 8253, 8613]
PHASE_FACE = {'b': '#1AAFE8', 'g': '#92CF50', 'r': '#FF0000'}
PHASE_DOT = {'b': '#E0405A', 'g': '#4060C0', 'r': None}

FS = 19

fig = plt.figure(figsize=(8.17, 10.92), dpi=100)
ax = fig.add_axes([60.7 / 817, 77 / 1092, (725 - 60.7) / 817, 1015 / 1092])

for data, col, off in zip(PATTERNS, COLORS, OFFSETS):
    x, y = np.array(data, dtype=float).T
    ax.plot(x, y + off, color=col, lw=1.25, clip_on=False, zorder=2)

for marks, off in zip(MARKS, OFFSETS):
    for ph, tt, val in marks:
        ax.plot(tt, val + off, 'o', ms=11, mfc=PHASE_FACE[ph], mew=0,
                clip_on=False, zorder=5)
        if PHASE_DOT[ph]:
            ax.plot(tt, val + off, 'o', ms=1.8, mfc=PHASE_DOT[ph], mew=0,
                    clip_on=False, zorder=6)

for lab, off in zip(LABELS, OFFSETS):
    ax.text(51.0, off, lab, fontsize=FS, ha='left', va='center', clip_on=False)

# 1000 cps scale bar
ax.plot([1.75, 1.75], [2358, 3358], color='black', lw=1.6, clip_on=False)
ax.text(2.05, 2826, '1000', fontsize=FS, ha='left', va='center', clip_on=False)

ax.set_xlim(5, 50)
ax.set_ylim(0, 9135)
ax.set_xticks(np.arange(5, 51, 5))
ax.set_xticks(np.arange(7.5, 50, 5), minor=True)
ax.set_yticks([])
for side in ('left', 'right', 'top'):
    ax.spines[side].set_visible(False)
ax.spines['bottom'].set_linewidth(1.6)
ax.tick_params(axis='x', which='major', direction='out', length=6, width=1.5,
               labelsize=FS, pad=6)
ax.tick_params(axis='x', which='minor', direction='out', length=3.5, width=1.2)
ax.patch.set_alpha(0)

fig.text(393 / 817, 1 - 1078 / 1092, r'Sudut 2θ ($^{\mathrm{o}}$)', fontsize=20.5,
         ha='center', va='center')
fig.text(25 / 817, 1 - 518 / 1092, 'Intensitas (cps)', fontsize=20.5,
         rotation=90, ha='center', va='center')

fig.savefig('out.png', dpi=100, facecolor='white')
